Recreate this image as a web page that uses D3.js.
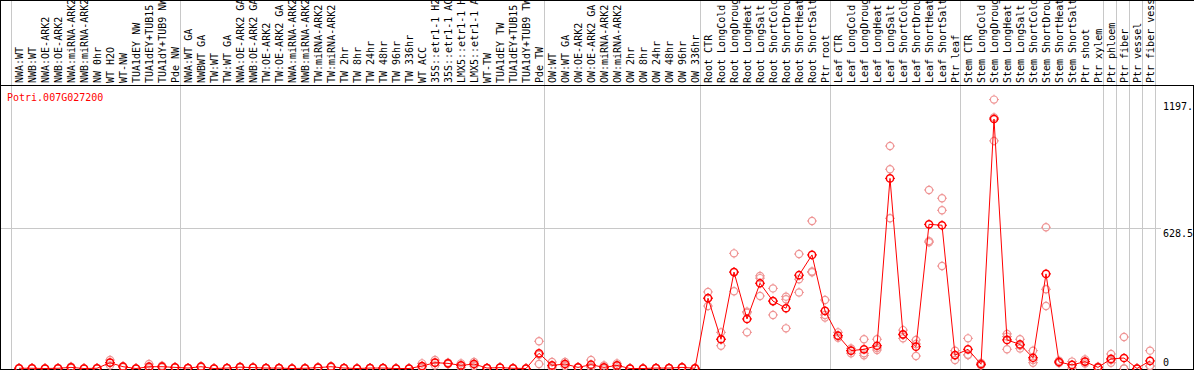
<!DOCTYPE html>
<html>
<head>
<meta charset="utf-8">
<script src="https://cdn.jsdelivr.net/npm/d3@7"></script>
<style>
    body { margin: 0; background: #fff; }
    svg { display: block; }
    text { font-family: "DejaVu Sans Mono", monospace; font-size: 10px; }
</style>
</head>
<body>
<svg id="chart" width="1194" height="370"></svg>
<script>
const geneId = "Potri.007G027200";

const categories = [
    "NWA:WT", "NWB:WT", "NWA:OE-ARK2", "NWB:OE-ARK2", "NWA:miRNA-ARK2", "NWB:miRNA-ARK2",
    "NW 0hr", "WT H2O", "WT-NW", "TUA1dEY NW", "TUA1dEY+TUB15 NW", "TUA1dY+TUB9 NW", "Pde NW",
    "NWA:WT GA", "NWBWT GA", "TW:WT", "TW:WT GA", "NWA:OE-ARK2 GA", "NWB:OE-ARK2 GA",
    "TW:OE-ARK2", "TW:OE-ARK2 GA", "NWA:miRNA-ARK2 GA", "NWB:miRNA-ARK2 GA", "TW:miRNA-ARK2",
    "TW:miRNA-ARK2 GA", "TW 2hr", "TW 8hr", "TW 24hr", "TW 48hr", "TW 96hr", "TW 336hr",
    "WT ACC", "35S::etr1-1 H2O", "35S::etr1-1 ACC", "LMX5::etr1-1 H2O", "LMX5::etr1-1 ACC",
    "WT-TW", "TUA1dEY TW", "TUA1dEY+TUB15 TW", "TUA1dY+TUB9 TW", "Pde TW",
    "OW:WT", "OW:WT GA", "OW:OE-ARK2", "OW:OE-ARK2 GA", "OW:miRNA-ARK2", "OW:miRNA-ARK2 GA",
    "OW 2hr", "OW 8hr", "OW 24hr", "OW 48hr", "OW 96hr", "OW 336hr",
    "Root CTR", "Root LongCold", "Root LongDrought", "Root LongHeat", "Root LongSalt",
    "Root ShortCold", "Root ShortDrought", "Root ShortHeat", "Root ShortSalt", "Ptr root",
    "Leaf CTR", "Leaf LongCold", "Leaf LongDrought", "Leaf LongHeat", "Leaf LongSalt",
    "Leaf ShortCold", "Leaf ShortDrought", "Leaf ShortHeat", "Leaf ShortSalt", "Ptr leaf",
    "Stem CTR", "Stem LongCold", "Stem LongDrought", "Stem LongHeat", "Stem LongSalt",
    "Stem ShortCold", "Stem ShortDrought", "Stem ShortHeat", "Stem ShortSalt", "Ptr shoot",
    "Ptr xylem", "Ptr phloem", "Ptr fiber", "Ptr vessel", "Ptr fiber vessel"
];

// last index of each sample group (-1 = line before the first column)
const groupEnds = [-1, 12, 40, 52, 62, 72, 83, 84, 85, 86, 87];

const means = [
    1, 1, 0, 1, 5, 0, 1, 26, 8, 0, 8, 8, 5,
    2, 8, 0, 2, 6, 4, 2, 2, 0, 1, 4, 8, 2, 0, 2, 2, 0, 0,
    11, 26, 23, 14, 20, 2, 4, 1, 0, 68,
    14, 20, 5, 17, 5, 14, 0, 0, 2, 2, 5, 1,
    315, 131, 432, 222, 382, 302, 270, 418, 509, 258,
    147, 80, 86, 102, 852, 153, 98, 646, 642, 60,
    86, 19, 1118, 128, 108, 48, 424, 29, 16, 31,
    5, 43, 47, 0, 34
];

const replicates = [
    [1, 1, 1], [1, 1, 2], [0, 0, 0], [1, 1, 1], [5, 8, 2], [0, 0, 0], [1, 1, 1],
    [38, 26, 14], [8, 10, 6], [0, 0, 0], [20, 4, 1], [12, 8, 4], [5, 5, 5],
    [2, 2, 2], [10, 8, 6], [0, 0, 0], [2, 2, 2], [8, 6, 4], [4, 4, 4], [2, 2, 2],
    [2, 3, 1], [0, 0, 0], [1, 1, 1], [6, 4, 2], [10, 8, 6], [2, 2, 2], [0, 0, 0],
    [2, 2, 2], [2, 2, 2], [0, 0, 0], [0, 0, 0],
    [23, 8, 2], [38, 26, 14], [26, 23, 20], [23, 14, 5], [29, 20, 11], [2, 2, 2],
    [4, 4, 4], [1, 1, 1], [0, 0, 0], [122, 62, 20],
    [29, 10, 3], [29, 20, 11], [5, 5, 5], [38, 8, 5], [14, 2, 0], [23, 14, 5],
    [0, 0, 0], [0, 0, 0], [2, 2, 2], [2, 2, 2], [5, 5, 5], [1, 1, 1],
    [343, 315, 280], [162, 131, 102], [516, 432, 346], [255, 250, 162], [415, 405, 325],
    [359, 302, 240], [322, 310, 180], [513, 400, 341], [661, 431, 435], [307, 240, 228],
    [162, 147, 138], [90, 80, 68], [131, 68, 59], [131, 92, 83], [997, 893, 673],
    [172, 150, 135], [128, 110, 56], [800, 571, 566], [763, 709, 459], [80, 60, 38],
    [135, 62, 60], [25, 19, 14], [1205, 1125, 1020], [155, 143, 86], [131, 103, 90],
    [80, 38, 26], [633, 355, 280], [35, 29, 24], [31, 16, 2], [41, 31, 22],
    [8, 5, 2], [65, 38, 26], [141, 0, 0], [0, 0, 0], [80, 11, 11]
];

const yMax = 1257;
const tickValues = [0, 628.5, 1197];
const tickLabels = ["0", "628.5", "1197."];

const svg = d3.select("#chart");

const x = d3.scaleLinear()
    .domain([0, categories.length - 1])
    .range([19, 1150]);

const y = d3.scaleLinear()
    .domain([0, yMax])
    .range([368.5, 88]);

const headerBottom = 85;
const plotBottom = 369;
const plotRight = 1161;

// vertical group separators
svg.append("g")
    .selectAll("line")
    .data(groupEnds)
    .join("line")
    .attr("x1", d => Math.round(x(d)) + 5.5)
    .attr("x2", d => Math.round(x(d)) + 5.5)
    .attr("y1", 0)
    .attr("y2", plotBottom)
    .attr("stroke", "#c8c8c8")
    .attr("stroke-width", 1);

// horizontal mid grid line
svg.append("line")
    .attr("x1", 1)
    .attr("x2", plotRight)
    .attr("y1", Math.round(y(tickValues[1])) + 0.5)
    .attr("y2", Math.round(y(tickValues[1])) + 0.5)
    .attr("stroke", "#c8c8c8");

// column labels
svg.append("g")
    .selectAll("text")
    .data(categories)
    .join("text")
    .attr("transform", (d, i) => `translate(${x(i) + 3.5},83) rotate(-90)`)
    .attr("fill", "#000")
    .text(d => d);

// frame
const frame = svg.append("g")
    .attr("stroke", "#000")
    .attr("stroke-width", 1);
frame.append("line").attr("x1", 0).attr("x2", 1194).attr("y1", 0.5).attr("y2", 0.5);
frame.append("line").attr("x1", 0).attr("x2", 1194).attr("y1", headerBottom + 0.5).attr("y2", headerBottom + 0.5);
frame.append("line").attr("x1", 0).attr("x2", 1194).attr("y1", plotBottom + 0.5).attr("y2", plotBottom + 0.5);
frame.append("line").attr("x1", 0.5).attr("x2", 0.5).attr("y1", 0).attr("y2", 370);
frame.append("line").attr("x1", 1193.5).attr("x2", 1193.5).attr("y1", headerBottom).attr("y2", 370);

// gene title
svg.append("text")
    .attr("x", 7)
    .attr("y", 101)
    .attr("fill", "#ff0000")
    .text(geneId);

// value labels on the right
svg.append("g")
    .selectAll("text")
    .data(tickValues)
    .join("text")
    .attr("x", 1163)
    .attr("y", d => d === 0 ? y(d) - 2.5 : y(d) + 9)
    .attr("fill", "#000")
    .text((d, i) => tickLabels[i]);

// circle with small cross stubs, like the original markers
function marker(sel, color, width) {
    sel.append("circle")
        .attr("r", 3.6)
        .attr("fill", "none")
        .attr("stroke", color)
        .attr("stroke-width", width);
    sel.append("path")
        .attr("d", "M0,-5V-3.5M0,3.5V5M-5,0H-3.5M3.5,0H5")
        .attr("stroke", color)
        .attr("stroke-width", 1);
}

const repPoints = [];
replicates.forEach((reps, i) => reps.forEach(v => repPoints.push({ i, v })));

svg.append("g")
    .selectAll("g")
    .data(repPoints)
    .join("g")
    .attr("transform", d => `translate(${x(d.i)},${y(d.v)})`)
    .call(marker, "#ef9595", 1.2);

const line = d3.line()
    .x((d, i) => x(i))
    .y(d => y(d));

svg.append("path")
    .datum(means)
    .attr("d", line)
    .attr("fill", "none")
    .attr("stroke", "#ff0000")
    .attr("stroke-width", 1);

svg.append("g")
    .selectAll("g")
    .data(means)
    .join("g")
    .attr("transform", (d, i) => `translate(${x(i)},${y(d)})`)
    .call(marker, "#ff0000", 1.5);
</script>
</body>
</html>
